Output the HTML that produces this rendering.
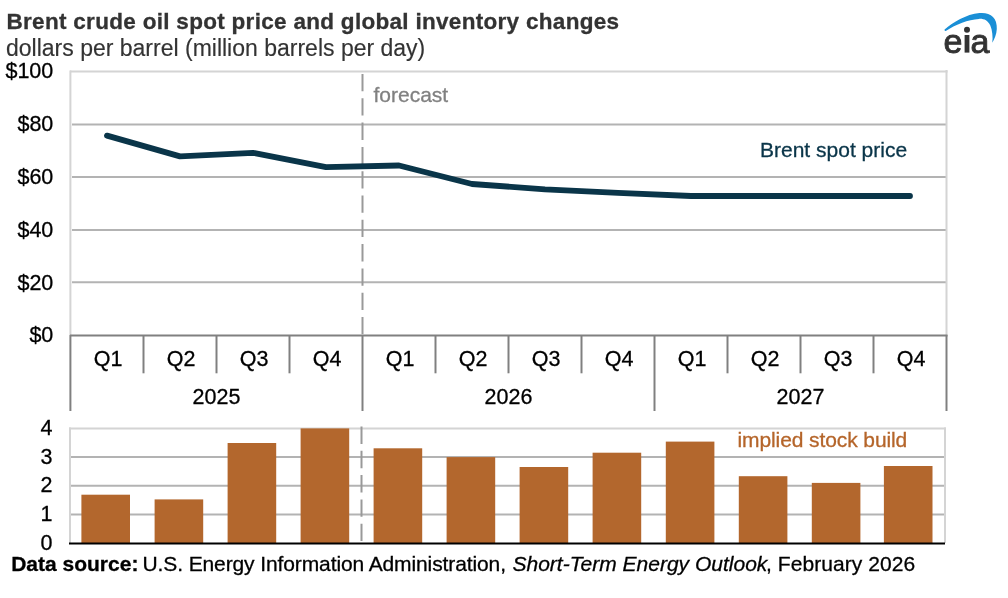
<!DOCTYPE html>
<html><head><meta charset="utf-8">
<style>
html,body{margin:0;padding:0;background:#fff;width:1008px;height:598px;overflow:hidden}
svg{display:block;will-change:transform;font-family:"Liberation Sans",sans-serif}
</style></head><body>
<svg width="1008" height="598" viewBox="0 0 1008 598">
<text x="6.5" y="29" font-size="22.5" letter-spacing="0.3" font-weight="bold" fill="#333333" stroke="#333333" stroke-width="0.3">Brent crude oil spot price and global inventory changes</text>
<text x="6" y="55.5" font-size="23" fill="#333333" stroke="#333333" stroke-width="0.15">dollars per barrel (million barrels per day)</text>
<path d="M944.6,29.4 C953,22.3 966,14.3 979.5,13 C990,12 997.5,17.5 996.8,29 C996.5,34.5 994.5,39 992.3,42.8 C993,37 992.3,30 990.3,25.5 C987.8,20.5 984,18.6 979,18.9 C968,19.6 956,24.2 946.2,30.8 C945.2,31.3 944.2,30.4 944.6,29.4 Z" fill="#1a8fd6"/>
<text x="943.6" y="52.6" font-size="34" fill="#333333" stroke="#333333" stroke-width="0.9">e</text>
<rect x="964.6" y="35" width="4.8" height="17.6" fill="#333333"/>
<circle cx="967" cy="29.7" r="3" fill="#333333"/>
<text x="970.4" y="52.6" font-size="34" fill="#333333" stroke="#333333" stroke-width="0.9">a</text>
<g stroke="#b3b3b3" stroke-width="2"><line x1="72" y1="124.6" x2="946.5" y2="124.6"/><line x1="72" y1="177" x2="946.5" y2="177"/><line x1="72" y1="230" x2="946.5" y2="230"/><line x1="72" y1="282.3" x2="946.5" y2="282.3"/></g>
<g stroke="#d4d4d4" stroke-width="2" fill="none">
<line x1="70" y1="71.4" x2="947.5" y2="71.4"/>
<line x1="70.4" y1="70.4" x2="70.4" y2="335"/>
<line x1="946.5" y1="70" x2="946.5" y2="335"/>
</g>
<g stroke="#808080" stroke-width="2" fill="none"><line x1="70" y1="335.5" x2="947.5" y2="335.5"/><line x1="70.4" y1="335" x2="70.4" y2="411"/><line x1="143.5" y1="335" x2="143.5" y2="373.3"/><line x1="216.5" y1="335" x2="216.5" y2="373.3"/><line x1="289.5" y1="335" x2="289.5" y2="373.3"/><line x1="362.5" y1="335" x2="362.5" y2="411"/><line x1="435.5" y1="335" x2="435.5" y2="373.3"/><line x1="508.5" y1="335" x2="508.5" y2="373.3"/><line x1="581.5" y1="335" x2="581.5" y2="373.3"/><line x1="654.5" y1="335" x2="654.5" y2="411"/><line x1="727.5" y1="335" x2="727.5" y2="373.3"/><line x1="800.5" y1="335" x2="800.5" y2="373.3"/><line x1="873.5" y1="335" x2="873.5" y2="373.3"/><line x1="946.5" y1="335" x2="946.5" y2="411"/></g>
<line x1="362.5" y1="74" x2="362.5" y2="335" stroke="#999999" stroke-width="2" stroke-dasharray="17.3 7"/>
<text x="373.5" y="102.3" font-size="21" fill="#808080" stroke="#808080" stroke-width="0.3">forecast</text>
<g font-size="21.5" fill="#000" text-anchor="end" stroke="#000" stroke-width="0.3"><text x="53.3" y="77.9">$100</text><text x="53.3" y="130.8">$80</text><text x="53.3" y="183.7">$60</text><text x="53.3" y="236.6">$40</text><text x="53.3" y="289.5">$20</text><text x="53.3" y="342.4">$0</text></g>
<g font-size="21.5" fill="#000" text-anchor="middle" stroke="#000" stroke-width="0.3"><text x="108.0" y="366">Q1</text><text x="181.0" y="366">Q2</text><text x="254.0" y="366">Q3</text><text x="327.0" y="366">Q4</text><text x="400.0" y="366">Q1</text><text x="473.0" y="366">Q2</text><text x="546.0" y="366">Q3</text><text x="619.0" y="366">Q4</text><text x="692.0" y="366">Q1</text><text x="765.0" y="366">Q2</text><text x="838.0" y="366">Q3</text><text x="911.0" y="366">Q4</text><text x="216.5" y="404">2025</text><text x="508.5" y="404">2026</text><text x="800.5" y="404">2027</text></g>
<polyline points="107.0,135.6 180.0,156.4 253.0,152.8 326.0,167.1 399.0,165.5 472.0,184 545.0,189.3 618.0,192.9 691.0,196 764.0,196 837.0,196 910.0,196" fill="none" stroke="#0a3549" stroke-width="5.8" stroke-linejoin="round" stroke-linecap="round"/>
<text x="760" y="156.5" font-size="21" fill="#0a3549" stroke="#0a3549" stroke-width="0.3">Brent spot price</text>
<g stroke="#b3b3b3" stroke-width="2"><line x1="71" y1="457" x2="945" y2="457"/><line x1="71" y1="485.8" x2="945" y2="485.8"/><line x1="71" y1="514.6" x2="945" y2="514.6"/></g>
<g stroke="#d4d4d4" stroke-width="2" fill="none">
<line x1="69" y1="428.4" x2="946" y2="428.4"/>
<line x1="70" y1="427.4" x2="70" y2="543"/>
<line x1="945" y1="427.4" x2="945" y2="543"/>
</g>
<line x1="361.5" y1="426.5" x2="361.5" y2="543" stroke="#999999" stroke-width="2" stroke-dasharray="17.4 6.9"/>
<g fill="#b3672d"><rect x="81.4" y="494.7" width="48.6" height="48.8"/><rect x="154.6" y="499.4" width="48.6" height="44.1"/><rect x="227.6" y="443" width="48.6" height="100.5"/><rect x="300.6" y="428.4" width="48.6" height="115.1"/><rect x="373.6" y="448.3" width="48.6" height="95.2"/><rect x="446.6" y="457.1" width="48.6" height="86.4"/><rect x="519.6" y="467" width="48.6" height="76.5"/><rect x="592.6" y="452.7" width="48.6" height="90.8"/><rect x="665.8" y="441.6" width="48.6" height="101.9"/><rect x="738.8" y="476.2" width="48.6" height="67.3"/><rect x="811.8" y="482.9" width="48.6" height="60.6"/><rect x="883.9" y="466" width="48.6" height="77.5"/></g>
<line x1="69" y1="543.5" x2="945" y2="543.5" stroke="#000" stroke-width="2"/>
<text x="737.5" y="446.8" font-size="21" letter-spacing="-0.1" fill="#b5652a" stroke="#b5652a" stroke-width="0.3">implied stock build</text>
<g font-size="21.5" fill="#000" text-anchor="end" stroke="#000" stroke-width="0.3"><text x="52.5" y="434.6">4</text><text x="52.5" y="463.5">3</text><text x="52.5" y="492.4">2</text><text x="52.5" y="521.3">1</text><text x="52.5" y="550.2">0</text></g>
<g font-size="21" fill="#000">
<text x="11.2" y="571.3" font-weight="bold" stroke="#000" stroke-width="0.3">Data source:</text>
<g stroke="#000" stroke-width="0.3">
<text x="142.5" y="571.3" letter-spacing="-0.11">U.S. Energy Information Administration,</text>
<text x="512.5" y="571.3" font-style="italic">Short-Term Energy Outlook</text>
<text x="766" y="571.3" letter-spacing="0.06">, February 2026</text>
</g></g>
</svg>
</body></html>
